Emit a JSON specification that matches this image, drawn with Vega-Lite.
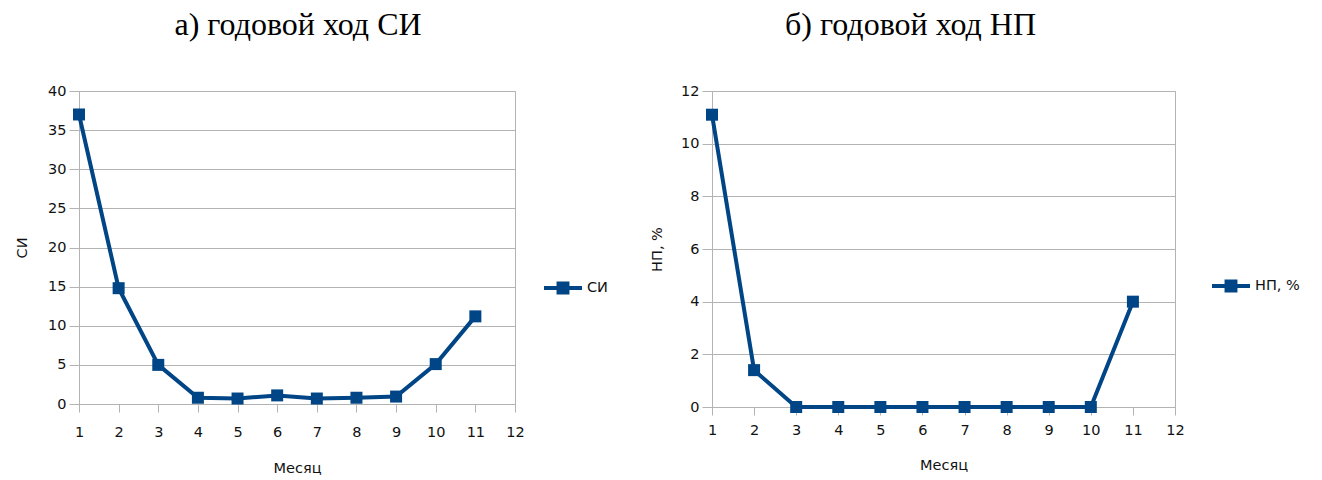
{
  "$schema": "https://vega.github.io/schema/vega-lite/v6.json",
  "background": "white",
  "padding": {"left": 14, "top": 8, "right": 5, "bottom": 5},
  "datasets": {
    "si": [
      {"month": 1, "value": 37, "series": "СИ"},
      {"month": 2, "value": 14.8, "series": "СИ"},
      {"month": 3, "value": 5, "series": "СИ"},
      {"month": 4, "value": 0.8, "series": "СИ"},
      {"month": 5, "value": 0.7, "series": "СИ"},
      {"month": 6, "value": 1.1, "series": "СИ"},
      {"month": 7, "value": 0.7, "series": "СИ"},
      {"month": 8, "value": 0.8, "series": "СИ"},
      {"month": 9, "value": 0.95, "series": "СИ"},
      {"month": 10, "value": 5.1, "series": "СИ"},
      {"month": 11, "value": 11.2, "series": "СИ"}
    ],
    "np": [
      {"month": 1, "value": 11.1, "series": "НП, %"},
      {"month": 2, "value": 1.4, "series": "НП, %"},
      {"month": 3, "value": 0, "series": "НП, %"},
      {"month": 4, "value": 0, "series": "НП, %"},
      {"month": 5, "value": 0, "series": "НП, %"},
      {"month": 6, "value": 0, "series": "НП, %"},
      {"month": 7, "value": 0, "series": "НП, %"},
      {"month": 8, "value": 0, "series": "НП, %"},
      {"month": 9, "value": 0, "series": "НП, %"},
      {"month": 10, "value": 0, "series": "НП, %"},
      {"month": 11, "value": 4.0, "series": "НП, %"}
    ]
  },
  "config": {
    "view": {"stroke": "#b3b3b3", "strokeWidth": 1},
    "axis": {
      "labelFont": "DejaVu Sans", "labelFontSize": 14.5, "labelColor": "#111", "labelOverlap": false, "labelFlush": false, "tickCount": 30, "format": "d",
      "titleFont": "DejaVu Sans", "titleFontSize": 14.5, "titleFontWeight": "normal", "titleColor": "#111",
      "domainColor": "#b3b3b3", "tickColor": "#b3b3b3", "gridColor": "#b3b3b3", "tickSize": 8
    },
    "title": {"font": "Liberation Serif", "fontSize": 32, "fontWeight": "normal", "color": "#000"},
    "legend": {"labelFont": "DejaVu Sans", "labelFontSize": 14.5, "labelColor": "#111"}
  },
  "resolve": {"scale": {"color": "independent"}, "legend": {"color": "independent"}},
  "spacing": 40,
  "hconcat": [
    {
      "width": 436,
      "height": 313,
      "title": {"text": "а) годовой ход СИ", "offset": 41, "dx": 1},
      "data": {"name": "si"},
      "layer": [
        {
          "mark": {"type": "line", "color": "#004586", "strokeWidth": 4},
          "encoding": {
            "x": {"field": "month", "type": "quantitative", "scale": {"domain": [1, 12], "nice": false, "zero": false},
              "axis": {"title": "Месяц", "values": [1,2,3,4,5,6,7,8,9,10,11,12], "format": "d", "labelFlush": false, "tickCount": 30, "grid": false, "labelPadding": 13, "titlePadding": 23}},
            "y": {"field": "value", "type": "quantitative", "scale": {"domain": [0, 40], "nice": false},
              "axis": {"title": "СИ", "values": [0,5,10,15,20,25,30,35,40], "format": "d", "tickCount": 30, "tickSize": 10, "labelPadding": 3, "titlePadding": 18}}
          }
        },
        {
          "mark": {"type": "point", "shape": "square", "filled": true, "size": 144, "opacity": 1},
          "encoding": {
            "x": {"field": "month", "type": "quantitative"},
            "y": {"field": "value", "type": "quantitative"},
            "color": {"field": "series", "type": "nominal", "scale": {"range": ["#004586"]},
              "legend": {"title": null, "orient": "none", "legendX": 465, "legendY": 178,
                "symbolType": "M-1,-0.105H1V0.105H-1ZM-0.34,-0.34H0.34V0.34H-0.34Z", "symbolSize": 1444, "symbolStrokeWidth": 0, "labelOffset": 5}}
          }
        }
      ]
    },
    {
      "width": 463,
      "height": 316,
      "title": {"text": "б) годовой ход НП", "offset": 41, "dx": -33},
      "data": {"name": "np"},
      "layer": [
        {
          "mark": {"type": "line", "color": "#004586", "strokeWidth": 4},
          "encoding": {
            "x": {"field": "month", "type": "quantitative", "scale": {"domain": [1, 12], "nice": false, "zero": false},
              "axis": {"title": "Месяц", "values": [1,2,3,4,5,6,7,8,9,10,11,12], "format": "d", "labelFlush": false, "tickCount": 30, "grid": false, "labelPadding": 8, "titlePadding": 22}},
            "y": {"field": "value", "type": "quantitative", "scale": {"domain": [0, 12], "nice": false},
              "axis": {"title": "НП, %", "values": [0,2,4,6,8,10,12], "format": "d", "tickCount": 30, "tickSize": 10, "labelPadding": 3, "titlePadding": 16}}
          }
        },
        {
          "mark": {"type": "point", "shape": "square", "filled": true, "size": 144, "opacity": 1},
          "encoding": {
            "x": {"field": "month", "type": "quantitative"},
            "y": {"field": "value", "type": "quantitative"},
            "color": {"field": "series", "type": "nominal", "scale": {"range": ["#004586"]},
              "legend": {"title": null, "orient": "none", "legendX": 500, "legendY": 176,
                "symbolType": "M-1,-0.105H1V0.105H-1ZM-0.34,-0.34H0.34V0.34H-0.34Z", "symbolSize": 1444, "symbolStrokeWidth": 0, "labelOffset": 5}}
          }
        }
      ]
    }
  ]
}
